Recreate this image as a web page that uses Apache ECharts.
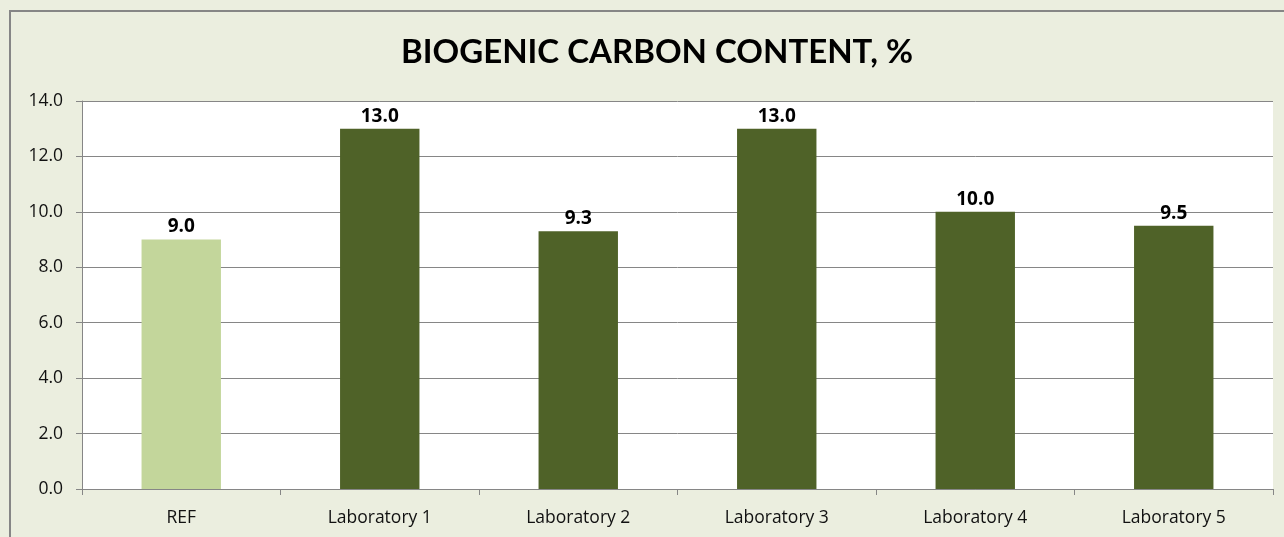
<!DOCTYPE html>
<html><head><meta charset="utf-8">
<script src="https://cdn.jsdelivr.net/npm/echarts@6/dist/echarts.min.js"></script>
<style>html,body{margin:0;padding:0;background:#EBEEDF;}#c{width:1284px;height:537px;}</style>
</head><body><div id="c"></div>
<script>
const categories = ['REF','Laboratory 1','Laboratory 2','Laboratory 3','Laboratory 4','Laboratory 5'];
const values = [9.0, 13.0, 9.3, 13.0, 10.0, 9.5];
const barColors = ['#C3D69B','#4F6228','#4F6228','#4F6228','#4F6228','#4F6228'];
const yTicks = {min:0, max:14, interval:2};
const chart = echarts.init(document.getElementById('c'));
chart.setOption({
  backgroundColor:'#EBEEDF',
  animation:false,
  title:{text:'BIOGENIC CARBON CONTENT, %', left:652, top:31, textAlign:'center',
    textStyle:{fontFamily:'Lato', fontWeight:'bold', fontSize:33, color:'#000'}},
  graphic:[{type:'polyline', shape:{points:[[10,540],[10,11],[1290,11]]}, style:{stroke:'#868686', lineWidth:2, fill:null}}],
  grid:{left:82, top:101, right:11, bottom:48, show:true, backgroundColor:'#fff', borderWidth:0},
  xAxis:{type:'category', data:categories,
    axisLine:{lineStyle:{color:'#868686', width:1}},
    axisTick:{show:true, length:6, lineStyle:{color:'#868686'}},
    axisLabel:{color:'#111', fontFamily:'Open Sans', fontSize:17.5, margin:20}},
  yAxis:{type:'value', min:yTicks.min, max:yTicks.max, interval:yTicks.interval,
    axisLine:{show:true, lineStyle:{color:'#868686'}},
    axisTick:{show:true, length:6, lineStyle:{color:'#868686'}},
    splitLine:{lineStyle:{color:'#868686'}},
    axisLabel:{color:'#111', fontFamily:'Open Sans', fontSize:17.5, margin:19, formatter:v=>v.toFixed(1)}},
  series:[{type:'bar', barWidth:'40%',
    data:values.map((v,i)=>({value:v, itemStyle:{color:barColors[i]}})),
    label:{show:true, position:'top', distance:3, color:'#000', fontFamily:'Open Sans', fontWeight:'bold', fontSize:19, formatter:p=>p.value.toFixed(1)}}]
});
</script></body></html>
